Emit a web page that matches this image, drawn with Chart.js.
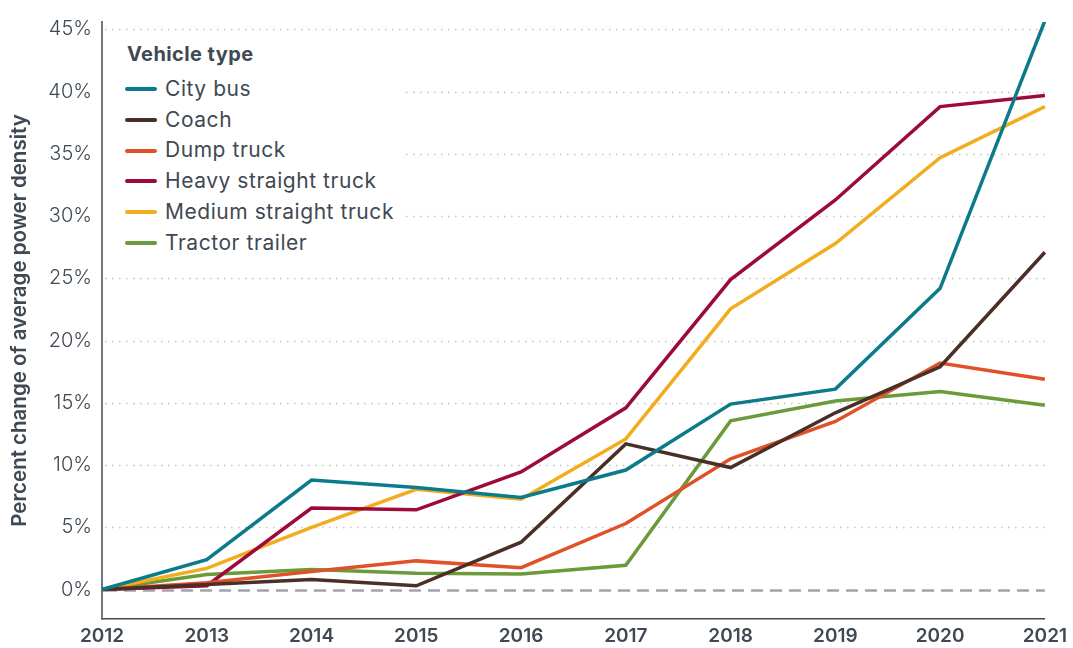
<!DOCTYPE html>
<html>
<head>
<meta charset="utf-8">
<script src="https://cdn.jsdelivr.net/npm/chart.js@4/dist/chart.umd.min.js"></script>
<style>
  html, body { margin: 0; padding: 0; background: #fff; }
  #wrap { position: relative; width: 1073px; height: 648px; }
  #legend {
    position: absolute; left: 104px; top: 34px; width: 300px; height: 232px;
    background: #fff; font-family: Inter, "Open Sans", sans-serif; color: #3f4953;
  }
  #legend .title { position: absolute; left: 23px; top: 8px; font-size: 20px; font-weight: 700; letter-spacing: 0.4px; }
  #legend .item { position: absolute; left: 21px; font-size: 21px; letter-spacing: 0.55px; height: 24px; line-height: 24px; white-space: nowrap; }
  #legend .item i { display: inline-block; width: 32px; height: 4px; border-radius: 2px; vertical-align: middle; margin-right: 8px; position: relative; top: -1px; }
</style>
</head>
<body>
<div id="wrap">
  <canvas id="grafico" width="1073" height="648"></canvas>
  <div id="legend"></div>
</div>
<script>
const years = ['2012', '2013', '2014', '2015', '2016', '2017', '2018', '2019', '2020', '2021'];
const cityBus = [0, 2.4, 8.8, 8.2, 7.4, 9.6, 14.9, 16.1, 24.2, 45.7];
const coach = [0, 0.4, 0.8, 0.3, 3.8, 11.7, 9.8, 14.2, 17.9, 27.1];
const dumpTruck = [0, 0.55, 1.45, 2.3, 1.75, 5.3, 10.5, 13.5, 18.2, 16.9];
const heavyStraight = [0, 0.3, 6.55, 6.4, 9.45, 14.6, 24.9, 31.3, 38.8, 39.7];
const mediumStraight = [0, 1.7, 5.0, 8.05, 7.25, 12.1, 22.55, 27.8, 34.7, 38.8];
const tractorTrailer = [0, 1.2, 1.6, 1.3, 1.25, 1.95, 13.55, 15.15, 15.9, 14.8];
const yTicks = [0, 5, 10, 15, 20, 25, 30, 35, 40, 45];

const series = [
  { label: 'City bus', data: cityBus, color: '#0b7b8b' },
  { label: 'Coach', data: coach, color: '#4a2f26' },
  { label: 'Dump truck', data: dumpTruck, color: '#df5129' },
  { label: 'Heavy straight truck', data: heavyStraight, color: '#9d0b3b' },
  { label: 'Medium straight truck', data: mediumStraight, color: '#f2ad1e' },
  { label: 'Tractor trailer', data: tractorTrailer, color: '#6b9a3a' }
];

const textColor = '#3f4953';
const fontFam = 'Inter, "Open Sans", sans-serif';

// grid lines: dotted, zero line dashed
const gridPlugin = {
  id: 'grilla',
  beforeDatasetsDraw(chart) {
    const { ctx, chartArea } = chart;
    const y = chart.scales.y;
    ctx.save();
    yTicks.forEach(v => {
      const py = Math.round(y.getPixelForValue(v)) + 0.5;
      ctx.beginPath();
      if (v === 0) {
        ctx.setLineDash([12, 7]);
        ctx.strokeStyle = '#a3a3aa';
        ctx.lineWidth = 2.5;
      } else {
        ctx.setLineDash([1.5, 5.5]);
        ctx.strokeStyle = '#c4c4c4';
        ctx.lineWidth = 1.5;
      }
      ctx.moveTo(chartArea.left + 3, py);
      ctx.lineTo(chartArea.right, py);
      ctx.stroke();
    });
    ctx.restore();
  }
};

new Chart(document.getElementById('grafico').getContext('2d'), {
  type: 'line',
  data: {
    labels: years,
    datasets: series.map(s => ({
      label: s.label,
      data: s.data,
      borderColor: s.color,
      backgroundColor: s.color,
      borderWidth: 3.5,
      pointRadius: 0,
      tension: 0,
      fill: false
    }))
  },
  options: {
    responsive: false,
    animation: false,
    layout: { padding: { top: 17, right: 25, left: 0, bottom: 0 } },
    plugins: {
      legend: { display: false },
      tooltip: { enabled: false }
    },
    scales: {
      x: {
        offset: false,
        grid: { display: false, drawTicks: false },
        border: { display: true, color: '#3f4953', width: 1.5 },
        ticks: {
          color: textColor,
          font: { family: fontFam, size: 19, weight: '600' },
          padding: 6,
          maxRotation: 0,
          autoSkip: false
        },
        afterFit: s => { s.height = 29; }
      },
      y: {
        min: -2.37,
        max: 45.6,
        afterBuildTicks: s => { s.ticks = yTicks.map(v => ({ value: v })); },
        grid: { display: false, drawTicks: false },
        border: { display: true, color: '#707780', width: 2 },
        ticks: {
          color: textColor,
          font: { family: fontFam, size: 20, weight: '300' },
          padding: 10,
          callback: v => v + '%'
        },
        title: {
          display: true,
          text: 'Percent change of average power density',
          color: textColor,
          font: { family: fontFam, size: 20.5, weight: '600' },
          padding: { top: 8, bottom: 0 }
        },
        afterFit: s => { s.width = 102; }
      }
    }
  },
  plugins: [gridPlugin]
});

// legend as html
const leg = document.getElementById('legend');
leg.innerHTML = '<div class="title">Vehicle type</div>' +
  series.map((s, i) =>
    '<div class="item" style="top:' + (43 + i * 30.7) + 'px"><i style="background:' + s.color + '"></i>' + s.label + '</div>'
  ).join('');
</script>
</body>
</html>
